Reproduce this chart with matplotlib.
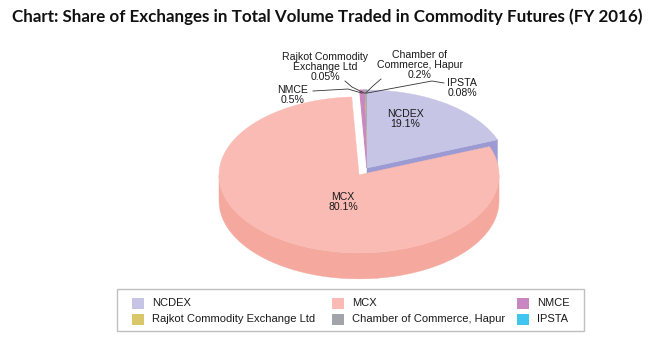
import numpy as np
import matplotlib.pyplot as plt
from matplotlib.patches import Polygon, Rectangle

# share of each exchange in total commodity futures volume, FY 2016 (%)
exchanges = ["NCDEX", "MCX", "NMCE", "Rajkot Commodity Exchange Ltd",
             "Chamber of Commerce, Hapur", "IPSTA"]
shares = [19.1, 80.1, 0.5, 0.05, 0.2, 0.08]
pie_names = ["NCDEX", "MCX", "NMCE", "Rajkot Commodity\nExchange Ltd",
             "Chamber of\nCommerce, Hapur", "IPSTA"]
pie_values = ["19.1%", "80.1%", "0.5%", "0.05%", "0.2%", "0.08%"]

# styles
top_colors = ["#c6c5e5", "#f9bbb3", "#c987c2", "#d9c76a", "#a3a3aa", "#3fc5ee"]
side_colors = ["#9c9ad3", "#f5a99e", "#b070a8", "#c0b050", "#8a8a90", "#2aa8d0"]
explode = [0.0, 0.105, 0.0, 0.0, 0.0, 0.0]

# pie geometry in pixels
CX, CY = 367, 168
RX, RY = 140, 78
DEPTH = 26

plt.rcParams['font.family'] = ['Liberation Sans', 'DejaVu Sans']

fig = plt.figure(figsize=(6.64, 3.55), dpi=100)
ax = fig.add_axes([0, 0, 1, 1])
ax.set_xlim(0, 664)
ax.set_ylim(355, 0)
ax.axis("off")


def ell(t, ox, oy, r=1.0):
    t = np.radians(np.atleast_1d(t))
    return np.column_stack([ox + r * RX * np.cos(t), oy - r * RY * np.sin(t)])


total = sum(shares)
sweep = np.array(shares) / total * 360
hi = 90 - np.concatenate([[0], np.cumsum(sweep)[:-1]])
lo = hi - sweep
mid = (hi + lo) / 2
offx = CX + np.array(explode) * RX * np.cos(np.radians(mid))
offy = CY - np.array(explode) * RY * np.sin(np.radians(mid))

# back slices first
order = np.argsort(-np.sin(np.radians(mid)))
for i in order:
    ox, oy = offx[i], offy[i]
    down = np.array([0, DEPTH])

    # radial cut faces that face the viewer
    if shares[i] >= 1:
        for t, show in [(lo[i], np.cos(np.radians(lo[i])) > 0),
                        (hi[i], np.cos(np.radians(hi[i])) < 0)]:
            if show:
                e = ell(t, ox, oy)[0]
                c = np.array([ox, oy])
                ax.add_patch(Polygon([c, e, e + down, c + down], closed=True,
                                     facecolor=side_colors[i], edgecolor=side_colors[i],
                                     lw=0.3))

    # outer side, front half only
    for k in range(-2, 2):
        a = max(lo[i], k * 360 - 180)
        b = min(hi[i], k * 360)
        if b > a:
            ts = np.linspace(a, b, 120)
            topedge = ell(ts, ox, oy)
            pts = np.vstack([topedge, (topedge + down)[::-1]])
            ax.add_patch(Polygon(pts, closed=True, facecolor=side_colors[i],
                                 edgecolor=side_colors[i], lw=0.3))

    # top face
    ts = np.linspace(lo[i], hi[i], max(3, int(sweep[i] * 2)))
    pts = np.vstack([[ox, oy], ell(ts, ox, oy)])
    if shares[i] < 1:
        ax.add_patch(Polygon(pts, closed=True, facecolor=top_colors[i],
                             edgecolor=top_colors[i], lw=0.8))
    else:
        ax.add_patch(Polygon(pts, closed=True, facecolor=top_colors[i],
                             edgecolor=top_colors[i], lw=0.3))

# labels
fs = 7.6
ax.text(405, 119, pie_names[0] + "\n" + pie_values[0], ha="center", va="center",
        fontsize=fs, color="#1a1a1a", linespacing=1.0)
ax.text(343, 202, pie_names[1] + "\n" + pie_values[1], ha="center", va="center",
        fontsize=fs, color="#1a1a1a", linespacing=1.0)

# outside labels: text centre, line start, elbow
outside = {
    2: ((293, 95), (313, 91), (348, 89)),
    3: ((325, 67), (345, 81), (352, 87)),
    4: ((420, 65), (381, 79), (374, 85)),
    5: ((462, 88), (444, 83), (432, 81)),
}
for i, (tpos, start, elbow) in outside.items():
    ax.text(tpos[0], tpos[1], pie_names[i] + "\n" + pie_values[i], ha="center",
            va="center", fontsize=fs, color="#1a1a1a", linespacing=1.0)
    end = ell(mid[i], offx[i], offy[i], r=0.96)[0]
    ax.plot([start[0], elbow[0], end[0]], [start[1], elbow[1], end[1]],
            color="#333333", lw=0.6)

# title
ax.text(12, 17, "Chart: Share of Exchanges in Total Volume Traded in Commodity Futures (FY 2016)",
        ha="left", va="center", fontsize=12.25, fontweight="bold", family=["Lato", "DejaVu Sans"],
        color="#111111")

# legend
ax.add_patch(Rectangle((117, 289), 467, 42, facecolor="white", edgecolor="#c0c0c0", lw=1))
leg_cols = [132, 332, 517]
leg_rows = [303, 319]
for k, name in enumerate(exchanges):
    x = leg_cols[k % 3]
    y = leg_rows[k // 3]
    ax.add_patch(Rectangle((x, y - 5.5), 12, 11, facecolor=top_colors[k], edgecolor="none"))
    ax.text(x + 20, y, name, ha="left", va="center", fontsize=8.0, color="#1a1a1a")

fig.savefig("out.png", dpi=100)
